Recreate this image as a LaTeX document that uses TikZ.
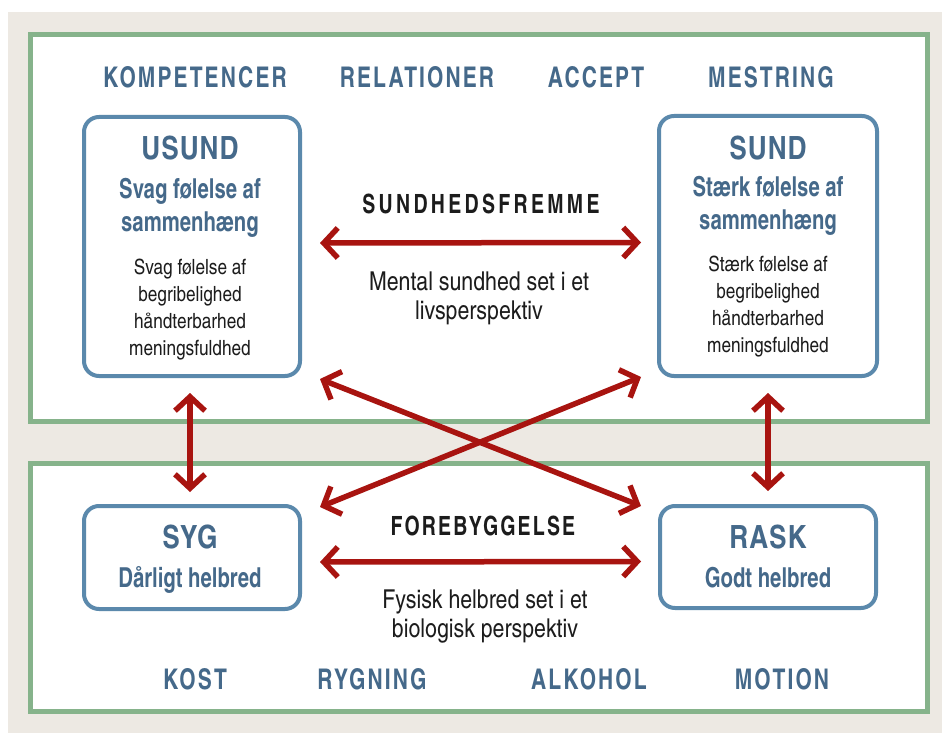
\documentclass[tikz,border=0pt]{standalone}
\usepackage{fontspec}
\usetikzlibrary{arrows.meta}
\newfontfamily\cnr{texgyreheroscn-regular.otf}
\newfontfamily\cnb{texgyreheroscn-bold.otf}
\newfontfamily\cnbs[FakeStretch=0.9]{texgyreheroscn-bold.otf}
\definecolor{beige}{HTML}{EDE9E3}
\definecolor{frgreen}{HTML}{86B38B}
\definecolor{boxblue}{HTML}{5B89AC}
\definecolor{txtblue}{HTML}{45698A}
\definecolor{arrred}{HTML}{A81410}
\definecolor{txtblack}{HTML}{1C1C1C}
\begin{document}
\begin{tikzpicture}[x=1pt,y=-1pt,
  frame/.style={draw=frgreen, line width=5pt, fill=white},
  hbox/.style={draw=boxblue, line width=4pt, rounded corners=15pt, fill=white, inner sep=0pt},
  tag/.style={font=\cnbs\addfontfeatures{LetterSpace=7.3}\fontsize{28.5}{30}\selectfont, text=txtblue, anchor=base, inner sep=0pt},
  ttl/.style={font=\cnb\addfontfeatures{LetterSpace=3}\fontsize{32}{36}\selectfont, text=txtblue, anchor=base, inner sep=0pt},
  sub/.style={font=\cnbs\fontsize{27.5}{33}\selectfont, text=txtblue, anchor=base, align=center, inner sep=0pt},
  small/.style={font=\cnr\fontsize{21}{26.7}\selectfont, text=txtblack, anchor=base, align=center, inner sep=0pt},
  midhead/.style={font=\cnbs\addfontfeatures{LetterSpace=12.4}\fontsize{26.5}{28}\selectfont, text=txtblack, anchor=base, inner sep=0pt},
  midtxt/.style={font=\cnr\fontsize{26}{28.5}\selectfont, text=txtblack, anchor=base, align=center, inner sep=0pt},
  dbl/.style={draw=arrred, line width=5.5pt, {Straight Barb[sharp,length=14pt,width=30pt]}-{Straight Barb[sharp,length=14pt,width=30pt]}}
]
\useasboundingbox (0,0) rectangle (942,733);
\fill[white] (0,0) rectangle (942,733);
\fill[beige] (8,12) rectangle (942,733);
\draw[frame] (30.5,34.5) rectangle (927,421.5);
\draw[frame] (30.5,463) rectangle (927,711);

% boxes
\node[hbox, minimum width=216pt, minimum height=259pt] (usund) at (192,246.5) {};
\node[hbox, minimum width=218pt, minimum height=260pt] (sund) at (768,246) {};
\node[hbox, minimum width=216pt, minimum height=103pt] (syg) at (192,557.5) {};
\node[hbox, minimum width=216pt, minimum height=102pt] (rask) at (768,557) {};

% top tags
\node[tag] (kom) at (195,88) {KOMPETENCER};
\node[tag] (rel) at (417,88) {RELATIONER};
\node[tag] (acc) at (596,88) {ACCEPT};
\node[tag] (mes) at (771,88) {MESTRING};

% bottom tags
\node[tag] (kost) at (195,689) {KOST};
\node[tag] (ryg) at (372,689) {RYGNING};
\node[tag] (alk) at (589,689) {ALKOHOL};
\node[tag] (mot) at (782,689) {MOTION};

% USUND box text (base anchor = last line baseline)
\node[ttl] (usundt) at (190,159) {USUND};
\node[sub] (usunds) at (190,231) {Svag følelse af\\sammenhæng};
\node[small] (usundd) at (190,355) {Svag følelse af\\begribelighed\\håndterbarhed\\meningsfuldhed};

% SUND box text
\node[ttl] (sundt) at (768,159) {SUND};
\node[sub] (sunds) at (768,229) {Stærk følelse af\\sammenhæng};
\node[small] (sundd) at (768,352) {Stærk følelse af\\begribelighed\\håndterbarhed\\meningsfuldhed};

% SYG / RASK text
\node[ttl] (sygt) at (190,548) {SYG};
\node[sub] (sygs) at (190,587) {Dårligt helbred};
\node[ttl] (raskt) at (768,548) {RASK};
\node[sub] (rasks) at (768,587) {Godt helbred};

% middle texts
\node[midhead] (shf) at (481,213) {SUNDHEDSFREMME};
\node[midtxt] (shft) at (479,319) {Mental sundhed set i et\\livsperspektiv};
\node[midhead, font=\cnbs\addfontfeatures{LetterSpace=8}\fontsize{26.5}{28}\selectfont] (frb) at (483,535) {FOREBYGGELSE};
\node[midtxt] (frbt) at (485,637) {Fysisk helbred set i et\\biologisk perspektiv};

% arrows
\draw[dbl] ([xshift=18pt,yshift=3.5pt]usund.east) -- ([xshift=-16pt,yshift=3.5pt]sund.west);
\draw[dbl] ([xshift=18pt,yshift=-4.5pt]syg.east) -- ([xshift=-17pt,yshift=-4.5pt]rask.west);
\draw[dbl] ([xshift=18pt,yshift=-1pt]usund.south east) -- ([xshift=-17pt,yshift=-2pt]rask.north west);
\draw[dbl] ([xshift=-16pt,yshift=1pt]sund.south west) -- ([xshift=18pt,yshift=-3pt]syg.north east);
\draw[dbl] ([xshift=-2pt,yshift=-15pt]usund.south) -- ([xshift=-2pt,yshift=12pt]syg.north);
\draw[dbl] ([yshift=-15pt]sund.south) -- ([yshift=13pt]rask.north);
\end{tikzpicture}
\end{document}
